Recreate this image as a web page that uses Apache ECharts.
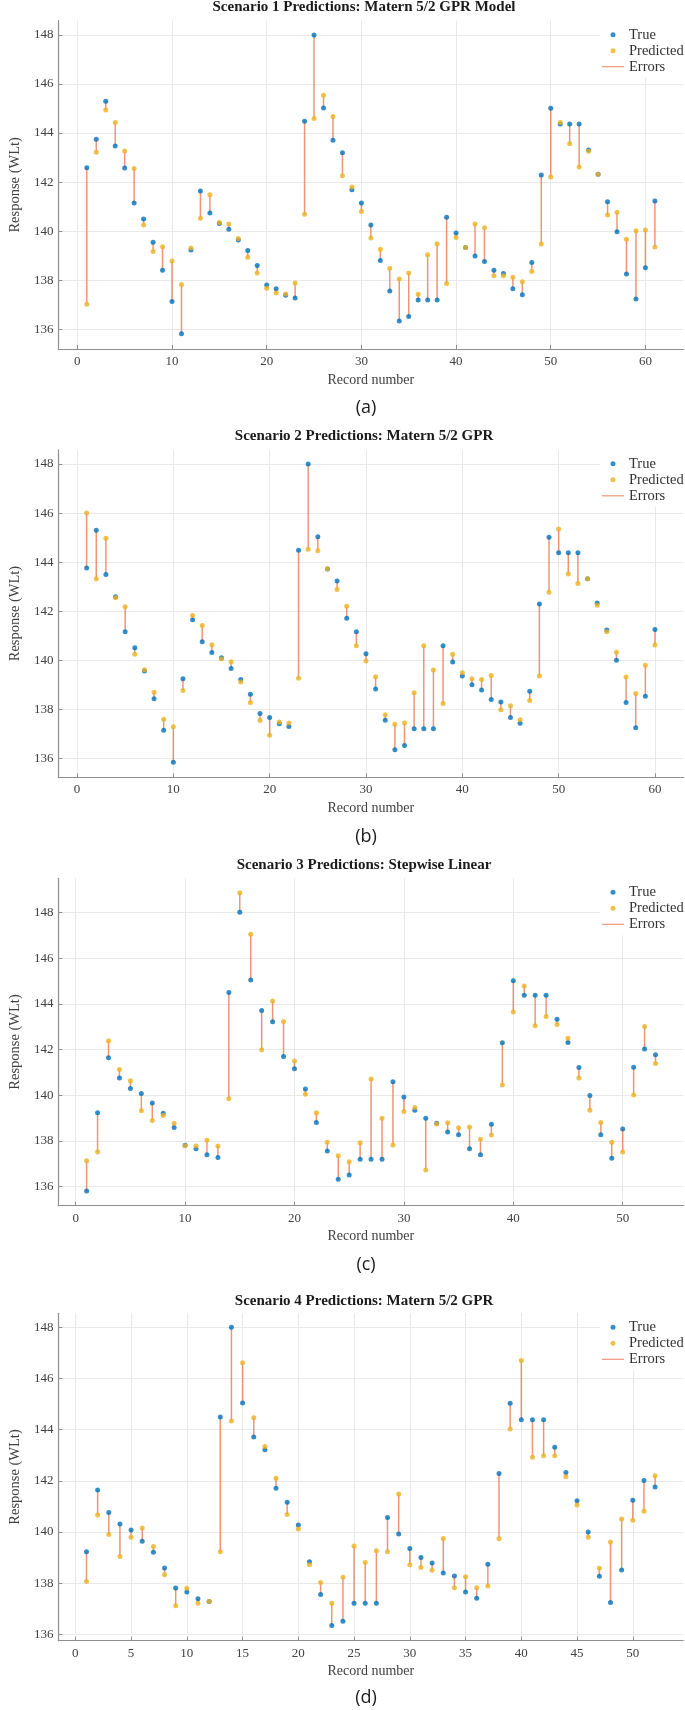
<!DOCTYPE html>
<html><head><meta charset="utf-8">
<script src="https://cdn.jsdelivr.net/npm/echarts@6/dist/echarts.min.js"></script>
<style>html,body{margin:0;padding:0;background:#fff}#c{width:685px;height:1710px}</style>
</head><body><div id="c"></div>
<script>
// ---- data ----
const s1True=[142.59,143.75,145.30,143.47,142.58,141.15,140.50,139.55,138.41,137.14,135.82,139.23,141.64,140.74,140.31,140.08,139.64,139.21,138.60,137.81,137.66,137.39,137.28,144.48,148.00,145.02,143.71,143.20,141.69,141.15,140.25,138.81,137.56,136.34,136.52,137.20,137.20,137.20,140.57,139.93,139.34,138.99,138.77,138.41,138.28,137.66,137.41,138.73,142.29,145.01,144.37,144.37,144.37,143.31,142.32,141.20,139.98,138.26,137.24,138.51,141.23];
const s1Pred=[137.02,143.22,144.94,144.43,143.27,142.56,140.25,139.17,139.37,138.79,137.83,139.32,140.53,141.49,140.36,140.29,139.70,138.94,138.30,137.68,137.48,137.44,137.89,140.69,144.59,145.54,144.68,142.26,141.80,140.80,139.72,139.27,138.49,138.05,138.30,137.43,139.04,139.49,137.87,139.74,139.34,140.29,140.14,138.19,138.19,138.12,137.94,138.36,139.48,142.21,144.43,143.56,142.62,143.26,142.32,140.66,140.77,139.67,140.02,140.05,139.36];
const s2True=[143.76,145.30,143.50,142.59,141.16,140.51,139.56,138.43,137.15,135.84,139.25,141.65,140.76,140.32,140.10,139.66,139.22,138.62,137.83,137.67,137.41,137.30,144.49,148.00,145.04,143.72,143.23,141.71,141.16,140.27,138.83,137.56,136.35,136.53,137.21,137.21,137.21,140.59,139.93,139.36,139.00,138.79,138.40,138.30,137.67,137.43,138.74,142.29,145.02,144.38,144.38,144.38,143.32,142.33,141.23,140.00,138.28,137.25,138.53,141.25];
const s2Pred=[146.00,143.32,144.97,142.55,142.18,140.25,139.61,138.70,137.60,137.29,138.77,141.83,141.42,140.63,140.05,139.94,139.11,138.28,137.55,136.94,137.48,137.44,139.27,144.53,144.47,143.73,142.89,142.20,140.59,139.97,139.33,137.78,137.39,137.44,138.68,140.59,139.60,138.24,140.25,139.49,139.25,139.22,139.38,137.98,138.15,137.58,138.36,139.36,142.77,145.35,143.52,143.13,143.32,142.24,141.16,140.33,139.32,138.65,139.80,140.62];
const s3True=[135.81,139.24,141.64,140.75,140.30,140.08,139.66,139.21,138.59,137.81,137.66,137.40,137.28,144.49,148.00,145.04,143.71,143.22,141.70,141.16,140.27,138.81,137.56,136.33,136.51,137.20,137.20,137.20,140.59,139.92,139.35,139.00,138.78,138.39,138.27,137.66,137.40,138.73,142.30,145.01,144.38,144.38,144.38,143.32,142.31,141.22,139.99,138.27,137.25,138.52,141.23,142.02,141.77];
const s3Pred=[137.14,137.52,142.39,141.13,140.64,139.32,138.90,139.12,138.78,137.79,137.78,138.03,137.78,139.85,148.86,147.04,141.99,144.12,143.23,141.50,140.04,139.24,137.95,137.36,137.09,137.92,140.71,138.99,137.82,139.29,139.46,136.73,138.74,138.80,138.58,138.61,138.08,138.26,140.45,143.64,144.78,143.04,143.44,143.10,142.49,140.75,139.35,138.81,137.95,137.52,140.01,143.01,141.39];
const s4True=[139.23,141.64,140.76,140.31,140.08,139.64,139.21,138.59,137.81,137.65,137.39,137.28,144.50,148.00,145.04,143.71,143.22,141.71,141.16,140.27,138.84,137.56,136.34,136.51,137.21,137.21,137.21,140.57,139.92,139.35,139.00,138.79,138.40,138.28,137.65,137.41,138.74,142.29,145.03,144.39,144.39,144.39,143.31,142.33,141.22,140.00,138.27,137.24,138.51,141.24,142.01,141.76];
const s4Pred=[138.06,140.66,139.90,139.04,139.79,140.16,139.43,138.33,137.12,137.80,137.21,137.28,139.23,144.34,146.62,144.47,143.34,142.10,140.68,140.12,138.72,138.03,137.21,138.23,139.45,138.81,139.27,139.23,141.49,138.72,138.61,138.50,139.75,137.82,138.25,137.82,137.89,139.74,144.03,146.70,142.92,142.98,142.98,142.16,141.06,139.79,138.58,139.61,140.51,140.46,140.81,142.20];
const titles=['Scenario 1 Predictions: Matern 5/2 GPR Model','Scenario 2 Predictions: Matern 5/2 GPR','Scenario 3 Predictions: Stepwise Linear','Scenario 4 Predictions: Matern 5/2 GPR'];
const subLabels=['(a)','(b)','(c)','(d)'];
const xTicks10=[0,10,20,30,40,50,60];
const xTicks10c=[0,10,20,30,40,50];
const xTicks5=[0,5,10,15,20,25,30,35,40,45,50];
const yTicks=[136,138,140,142,144,146,148];
const seriesNames=['True','Predicted','Errors'];

// ---- layout ----
const trueSets=[s1True,s2True,s3True,s4True];
const predSets=[s1Pred,s2Pred,s3Pred,s4Pred];
const xTickSets=[xTicks10,xTicks10,xTicks10c,xTicks5];
const P=[
 {top:20.7,bottom:349,xMin:-2,xMax:64,yMin:135.2,yMax:148.58,titleY:7,labelY:408},
 {top:449.8,bottom:777.3,xMin:-1.93,xMax:62.94,yMin:135.23,yMax:148.58,titleY:436,labelY:837},
 {top:878.3,bottom:1205.7,xMin:-1.58,xMax:55.54,yMin:135.17,yMax:149.49,titleY:865,labelY:1265},
 {top:1313.3,bottom:1640.7,xMin:-1.52,xMax:54.53,yMin:135.75,yMax:148.55,titleY:1300.7,labelY:1698}
];
const LEFT=44.3, RIGHT_EDGE=683.3;
const SERIF='"Liberation Serif","DejaVu Serif",serif';
const cTrue='#0072BD', cPred='#EDB120', cErr='rgba(228,100,55,0.68)';
const axisCol='#8f8f8f', gridCol='#e9e9e9', labCol='#404040';

const grid=[],xAxis=[],yAxis=[],series=[],legend=[],graphic=[];
P.forEach((p,i)=>{
  grid.push({left:LEFT,top:p.top,width:RIGHT_EDGE-LEFT,height:p.bottom-p.top,containLabel:false});
  xAxis.push({gridIndex:i,type:'value',min:p.xMin,max:p.xMax,
    axisLine:{show:true,onZero:false,lineStyle:{color:axisCol,width:1.2}},
    axisTick:{show:true,inside:true,length:4,customValues:xTickSets[i],lineStyle:{color:axisCol}},
    axisLabel:{customValues:xTickSets[i],color:labCol,fontFamily:SERIF,fontSize:13,margin:6},
    splitLine:{show:true,lineStyle:{color:gridCol,width:1}},
    name:'Record number',nameLocation:'middle',nameGap:24,
    nameTextStyle:{color:labCol,fontFamily:SERIF,fontSize:14}});
  yAxis.push({gridIndex:i,type:'value',min:p.yMin,max:p.yMax,
    axisLine:{show:true,onZero:false,lineStyle:{color:axisCol,width:1.2}},
    axisTick:{show:true,inside:true,length:4,customValues:yTicks,lineStyle:{color:axisCol}},
    axisLabel:{customValues:yTicks,color:labCol,fontFamily:SERIF,fontSize:13,margin:5},
    splitLine:{show:true,lineStyle:{color:gridCol,width:1}},
    name:'Response (WLt)',nameLocation:'middle',nameGap:32,
    nameTextStyle:{color:labCol,fontFamily:SERIF,fontSize:14.5}});
  const t=trueSets[i], pr=predSets[i];
  series.push({name:'Errors',type:'custom',xAxisIndex:i,yAxisIndex:i,z:1,
    itemStyle:{color:cErr},
    encode:{x:0,y:[1,2]},
    data:t.map((v,k)=>[k+1,v,pr[k]]),
    renderItem:(params,api)=>{
      const a=api.coord([api.value(0),api.value(1)]);
      const b=api.coord([api.value(0),api.value(2)]);
      return {type:'line',shape:{x1:a[0],y1:a[1],x2:b[0],y2:b[1]},style:{stroke:cErr,lineWidth:1.5}};
    }});
  series.push({name:'True',type:'scatter',xAxisIndex:i,yAxisIndex:i,z:3,symbolSize:5,
    itemStyle:{color:cTrue},data:t.map((v,k)=>[k+1,v])});
  series.push({name:'Predicted',type:'scatter',xAxisIndex:i,yAxisIndex:i,z:4,symbolSize:5,
    itemStyle:{color:cPred},data:pr.map((v,k)=>[k+1,v])});
  legend.push({orient:'vertical',left:600,top:p.top,backgroundColor:'#fff',
    padding:[6,6,3,2],itemWidth:22,itemHeight:5,itemGap:0,
    textStyle:{fontFamily:SERIF,fontSize:14.5,lineHeight:16,color:'#333'},
    data:[{name:seriesNames[0],icon:'circle'},{name:seriesNames[1],icon:'circle'},
          {name:seriesNames[2],icon:'path://M0,0h24v1.3h-24z'}]});
  graphic.push({type:'text',x:364,y:p.titleY,z:10,style:{text:titles[i],font:'bold 15px '+SERIF,
    fill:'#1a1a1a',textAlign:'center',align:'center',textVerticalAlign:'middle',verticalAlign:'middle'}});
  graphic.push({type:'text',x:366,y:p.labelY,z:10,style:{text:subLabels[i],font:'18px "Open Sans","Noto Sans",sans-serif',
    fill:'#1a1a1a',textAlign:'center',align:'center',textVerticalAlign:'middle',verticalAlign:'middle'}});
});

const chart=echarts.init(document.getElementById('c'),null,{renderer:'canvas'});
chart.setOption({animation:false,backgroundColor:'#fff',grid,xAxis,yAxis,series,legend,graphic});
</script></body></html>
